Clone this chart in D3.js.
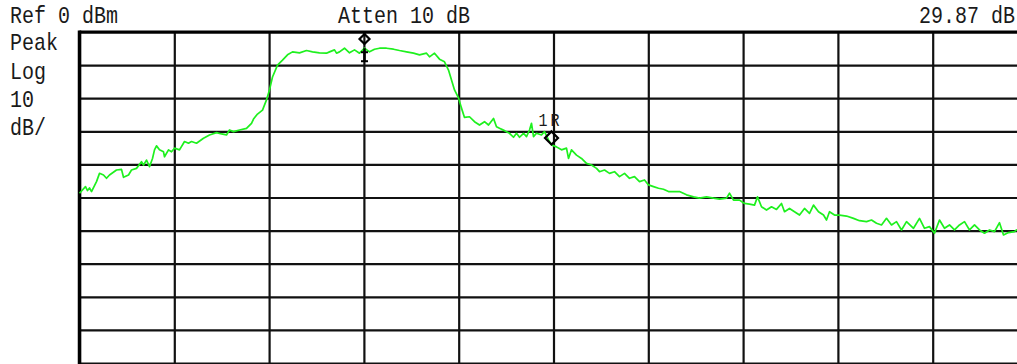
<!DOCTYPE html>
<html>
<head>
<meta charset="utf-8">
<script src="https://cdn.jsdelivr.net/npm/d3@7/dist/d3.min.js"></script>
<style>
  html, body { margin: 0; padding: 0; background: #fff; }
  svg { display: block; }
  text { font-family: "Liberation Mono", "DejaVu Sans Mono", monospace; fill: #1a1a1a; }
</style>
</head>
<body>
<svg id="chart" width="1017" height="364"></svg>
<script>
// Screen annotations
const headerLeft = "Ref 0 dBm";
const headerCenter = "Atten 10 dB";
const headerRight = "29.87 dB";
const sideLabels = ["Peak", "Log", "10", "dB/"];

// Display scaling: reference level, dB per division, number of divisions
const refLevel = 0;
const dbPerDiv = 10;
const yDivisions = 10;
const xDivisions = 10;
const sweepPoints = 948;

// Trace: sweep point index and amplitude (dBm)
const traceBins = [
  0, 6, 8, 10, 12, 17, 20, 24, 27, 30, 37, 42, 44, 49, 52, 57, 62, 64, 67, 70,
  73, 75, 77, 80, 84, 85, 89, 92, 95, 100, 105, 109, 112, 117, 124, 130, 137, 142, 147, 150,
  154, 160, 167, 172, 174, 178, 183, 187, 190, 193, 198, 203, 208, 213, 220, 227, 233, 240, 247, 250,
  255, 257, 260, 265, 270, 275, 280, 285, 290, 295, 300, 307, 314, 320, 327, 334, 340, 347, 350, 355,
  360, 365, 369, 372, 375, 379, 382, 385, 390, 395, 400, 405, 409, 414, 417, 420, 425, 430, 434, 437,
  440, 444, 447, 450, 452, 454, 457, 462, 465, 469, 472, 477, 482, 487, 489, 492, 497, 502, 507, 512,
  517, 520, 525, 530, 535, 540, 545, 550, 555, 560, 565, 569, 574, 579, 584, 589, 600, 607, 614, 620,
  627, 634, 640, 647, 650, 654, 660, 665, 670, 675, 678, 682, 687, 692, 697, 702, 705, 710, 715, 720,
  725, 730, 734, 739, 744, 747, 750, 755, 760, 767, 774, 780, 787, 792, 797, 802, 807, 812, 817, 822,
  827, 834, 840, 845, 850, 855, 860, 865, 870, 875, 880, 885, 890, 895, 900, 905, 910, 915, 920, 924,
  929, 935, 937, 941, 948
];
const traceDbm = [
  -48.7, -46.7, -47.9, -47.1, -48.2, -45.2, -42.7, -43.2, -44.2, -43.2, -41.7, -41.5, -43.9, -43.2, -41.7, -41.2, -39.2, -40.2, -38.7, -40.7,
  -38.2, -35.6, -34.4, -35.6, -36.2, -37.7, -35.6, -36.2, -35.1, -35.6, -33.1, -33.6, -33.1, -33.6, -32.1, -31.1, -30.4, -30.8, -31.1, -29.6,
  -30.1, -29.6, -29.1, -27.6, -26.3, -24.8, -23.6, -20.5, -17.5, -13.6, -10.0, -8.5, -6.9, -6.0, -6.3, -5.6, -6.0, -6.3, -6.4, -6.0,
  -5.4, -6.4, -6.0, -4.9, -6.3, -5.4, -6.4, -4.9, -6.0, -5.2, -4.9, -4.9, -5.2, -5.6, -6.0, -6.4, -6.9, -6.4, -7.5, -6.4,
  -8.2, -9.0, -11.5, -14.5, -17.5, -19.9, -23.0, -25.8, -25.6, -27.1, -28.1, -27.1, -28.1, -26.1, -28.6, -29.1, -29.8, -30.6, -31.8, -30.6,
  -31.8, -30.6, -31.6, -29.6, -27.6, -31.6, -30.6, -31.1, -30.1, -32.6, -34.1, -34.7, -35.6, -35.1, -38.2, -35.6, -37.2, -38.2, -39.7, -40.2,
  -41.2, -42.2, -41.7, -42.7, -42.2, -43.7, -42.7, -44.2, -43.7, -45.2, -44.7, -46.2, -46.7, -47.2, -47.5, -48.2, -48.2, -49.2, -49.8, -50.2,
  -49.8, -50.2, -50.5, -50.2, -48.7, -50.8, -50.8, -51.8, -52.0, -52.3, -49.8, -52.8, -53.8, -52.8, -53.6, -51.8, -54.3, -53.3, -54.3, -55.3,
  -53.3, -54.8, -52.3, -54.3, -55.3, -56.8, -54.3, -55.3, -55.3, -55.6, -56.3, -57.0, -57.3, -56.8, -57.8, -58.3, -56.3, -58.3, -57.3, -59.8,
  -57.3, -59.3, -56.3, -59.3, -58.8, -60.8, -56.8, -59.3, -58.3, -59.8, -58.3, -57.3, -59.8, -58.3, -59.8, -60.8, -59.8, -60.3, -57.6, -61.3,
  -60.6, -60.3, -59.8, -60.3, -60.0
];

// Markers: reference marker on the trace, delta marker offset from it
const refMarkerBin = 472;
const refMarkerDbm = -32.0;
const deltaMarkerBin = 285;
const deltaDb = 29.87;

const svg = d3.select("#chart");
const plotLeft = 79.5, plotRight = 1027.5, plotTop = 32, plotBottom = 363;

const x = d3.scaleLinear().domain([0, sweepPoints]).range([plotLeft, plotRight]);
const y = d3.scaleLinear().domain([refLevel - dbPerDiv * yDivisions, refLevel]).range([plotBottom, plotTop]);

const xGridVals = d3.range(xDivisions + 1).map(i => i * sweepPoints / xDivisions);
const yGridVals = d3.range(yDivisions + 1).map(i => refLevel - i * dbPerDiv);

// Graticule
const grid = svg.append("g").attr("class", "graticule");
grid.append("g")
  .attr("transform", `translate(0,${plotBottom})`)
  .call(d3.axisBottom(x).tickValues(xGridVals).tickSize(-(plotBottom - plotTop)).tickFormat(""))
  .call(g => g.select(".domain").remove())
  .call(g => g.selectAll("line").attr("stroke", "#111").attr("stroke-width", 2.2));
grid.append("g")
  .attr("transform", `translate(${plotLeft},0)`)
  .call(d3.axisLeft(y).tickValues(yGridVals).tickSize(-(plotRight - plotLeft)).tickFormat(""))
  .call(g => g.select(".domain").remove())
  .call(g => g.selectAll("line").attr("stroke", "#111").attr("stroke-width", 2.2));
// Heavier frame edges
grid.append("line").attr("x1", plotLeft).attr("x2", plotLeft).attr("y1", plotTop - 1.5).attr("y2", plotBottom + 1)
  .attr("stroke", "#000").attr("stroke-width", 3.5);
grid.append("line").attr("x1", plotLeft).attr("x2", plotRight).attr("y1", plotTop).attr("y2", plotTop)
  .attr("stroke", "#000").attr("stroke-width", 3);

// Trace
const traceData = traceBins.map((b, i) => ({ bin: b, dbm: traceDbm[i] }));
const line = d3.line().x(d => x(d.bin)).y(d => y(d.dbm));
svg.append("path")
  .datum(traceData)
  .attr("d", line)
  .attr("fill", "none")
  .attr("stroke", "#1ef01e")
  .attr("stroke-width", 1.7)
  .attr("stroke-linejoin", "round");

// Diamond marker symbol
function diamond(cx, cy, r) {
  return `M${cx},${cy - r}L${cx + r},${cy}L${cx},${cy + r}L${cx - r},${cy}Z`;
}

// Reference marker "1R"
const rx = x(refMarkerBin), ry = y(refMarkerDbm);
svg.append("path").attr("d", diamond(rx, ry, 6.5))
  .attr("fill", "none").attr("stroke", "#000").attr("stroke-width", 2.2);
svg.append("text")
  .attr("transform", `translate(${rx - 1},${ry - 12}) scale(1,1.2)`)
  .attr("text-anchor", "middle").attr("font-size", 15).attr("letter-spacing", 3)
  .text("1R");

// Delta marker
const dx = x(deltaMarkerBin), dyVal = refMarkerDbm + deltaDb;
const dyPix = y(dyVal);
svg.append("line").attr("x1", dx).attr("x2", dx).attr("y1", plotTop).attr("y2", dyPix - 5)
  .attr("stroke", "#000").attr("stroke-width", 2);
svg.append("path").attr("d", diamond(dx, dyPix, 5))
  .attr("fill", "none").attr("stroke", "#000").attr("stroke-width", 2.2);
// Delta trace-point bar
const tracePt = d3.least(traceData, d => Math.abs(d.bin - deltaMarkerBin));
const tpy = y(tracePt.dbm);
svg.append("line").attr("x1", dx).attr("x2", dx).attr("y1", tpy).attr("y2", tpy + 13)
  .attr("stroke", "#000").attr("stroke-width", 2.5);
[tpy + 4, tpy + 13].forEach(v => {
  svg.append("line").attr("x1", dx - 3.5).attr("x2", dx + 3.5).attr("y1", v).attr("y2", v)
    .attr("stroke", "#000").attr("stroke-width", 2);
});

// Header texts
function label(txt, xp, yp, anchor) {
  svg.append("text")
    .attr("transform", `translate(${xp},${yp}) scale(1,1.2)`)
    .attr("text-anchor", anchor || "start")
    .attr("font-size", 20)
    .text(txt);
}
label(headerLeft, 10, 22.5);
label(headerCenter, 338, 23);
label(headerRight, 1015, 23, "end");
const sideBaselines = [50, 79, 107, 135];
sideLabels.forEach((t, i) => label(t, 10, sideBaselines[i]));
</script>
</body>
</html>
